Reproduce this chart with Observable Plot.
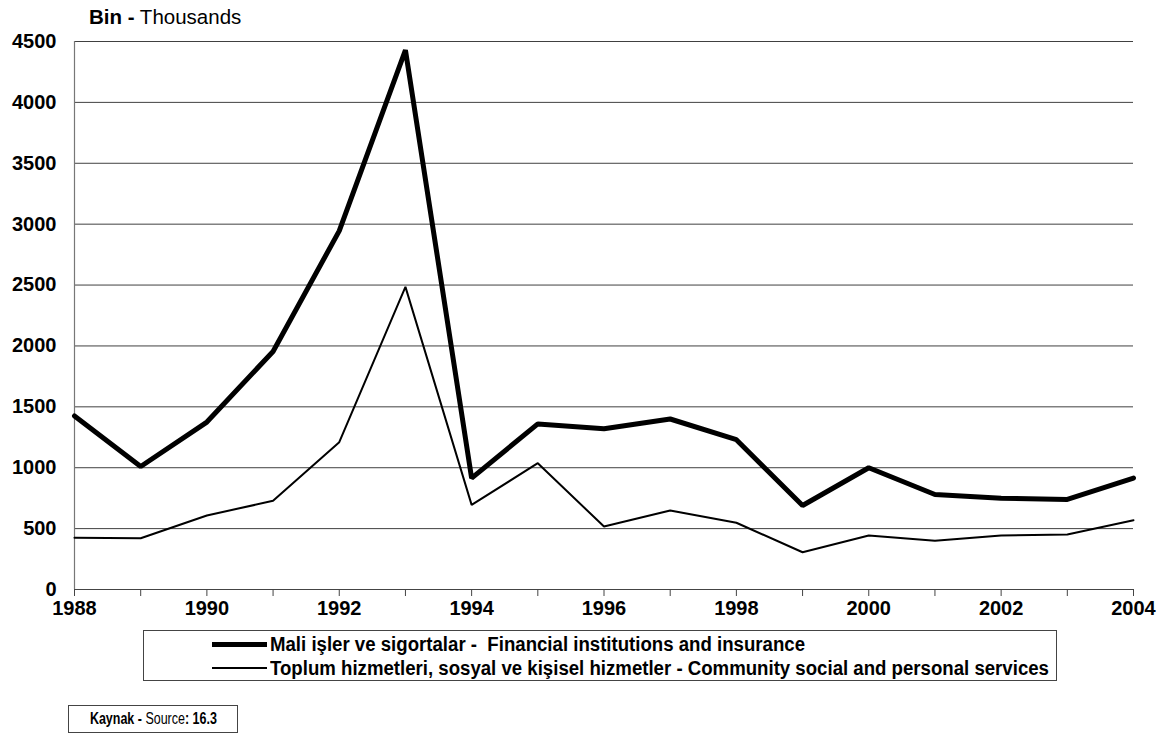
<!DOCTYPE html>
<html>
<head>
<meta charset="utf-8">
<script src="https://cdn.jsdelivr.net/npm/d3@7"></script>
<script src="https://cdn.jsdelivr.net/npm/@observablehq/plot@0.6"></script>
<style>
  html, body { margin: 0; padding: 0; background: #fff; }
  #wrap { position: relative; width: 1164px; height: 736px; font-family: "Liberation Sans", Arial, sans-serif; color: #000; }
  #title { position: absolute; left: 89px; top: 4px; font-size: 20.5px; line-height: 26px; white-space: nowrap; }
  #chart { position: absolute; left: 0; top: 28px; }
  #legend { position: absolute; left: 143px; top: 630px; width: 912px; height: 49px; border: 1px solid #444; }
  .row { position: absolute; left: 68px; height: 24px; display: flex; align-items: center; white-space: nowrap;
         font-family: "Liberation Sans", Arial, sans-serif; font-weight: bold; font-size: 19.5px; }
  .swatch { width: 55px; background: #000; margin-right: 3px; flex: none; }
  .ltext { display: inline-block; transform: scaleX(0.955); transform-origin: 0 50%; white-space: pre; }
  #source { position: absolute; left: 68px; top: 705px; width: 168px; height: 26px; border: 1px solid #444;
            font-size: 16px; line-height: 26px; text-align: center; white-space: nowrap; }
  #source span { display: inline-block; transform: scaleX(0.78); transform-origin: 50% 50%; }
</style>
</head>
<body>
<div id="wrap">
  <div id="title"><b>Bin -</b> Thousands</div>
  <div id="chart"></div>
  <div id="legend"></div>
  <div id="source"><span><b>Kaynak -</b> Source<b>: 16.3</b></span></div>
</div>
<script>
const years = [1988,1989,1990,1991,1992,1993,1994,1995,1996,1997,1998,1999,2000,2001,2002,2003,2004];
const financial = [1425,1010,1375,1955,2945,4430,915,1360,1320,1400,1230,690,1000,780,750,740,915];
const community = [424,421,608,728,1210,2485,695,1037,517,649,548,306,443,400,443,452,569];
const seriesNames = [
  "Mali işler ve sigortalar -  Financial institutions and insurance",
  "Toplum hizmetleri, sosyal ve kişisel hizmetler - Community social and personal services"
];
const seriesWidths = [5, 2];
const yTicks = [0,500,1000,1500,2000,2500,3000,3500,4000,4500];
const xLabelYears = [1988,1990,1992,1994,1996,1998,2000,2002,2004];

const rows = [];
years.forEach((yr, i) => {
  rows.push({year: yr, value: financial[i], series: seriesNames[0]});
  rows.push({year: yr, value: community[i], series: seriesNames[1]});
});

const chart = Plot.plot({
  width: 1164,
  height: 596,
  marginLeft: 74,
  marginRight: 31,
  marginTop: 13,
  marginBottom: 35,
  style: {fontFamily: "'Liberation Sans', Arial, sans-serif", background: "#fff", color: "#000"},
  x: {type: "linear", domain: [1988, 2004]},
  y: {domain: [0, 4500]},
  marks: [
    Plot.gridY(yTicks.filter(d => d > 0), {stroke: "#000", strokeOpacity: 0.75, strokeWidth: 1}),
    Plot.ruleX([1988], {stroke: "#777", strokeWidth: 1.2}),
    Plot.ruleY([0], {stroke: "#444", strokeWidth: 1}),
    Plot.axisY({ticks: yTicks, tickSize: 0, tickPadding: 18, fontSize: 20, fontWeight: "bold", label: null,
                tickFormat: d3.format("d")}),
    Plot.axisX({ticks: years, tickSize: 7, tickPadding: 4, fontSize: 20, fontWeight: "bold", label: null,
                stroke: "#444", strokeOpacity: 1,
                tickFormat: d => xLabelYears.includes(d) ? String(d) : ""}),
    Plot.line(rows.filter(d => d.series === seriesNames[1]), {x: "year", y: "value", stroke: "#000", strokeWidth: seriesWidths[1], strokeLinejoin: "miter"}),
    Plot.line(rows.filter(d => d.series === seriesNames[0]), {x: "year", y: "value", stroke: "#000", strokeWidth: seriesWidths[0], strokeLinejoin: "miter"})
  ]
});
document.getElementById("chart").appendChild(chart);

const legend = document.getElementById("legend");
seriesNames.forEach((name, i) => {
  const row = document.createElement("div");
  row.className = "row";
  row.style.top = (i * 24 + 1) + "px";
  const sw = document.createElement("span");
  sw.className = "swatch";
  sw.style.height = seriesWidths[i] + "px";
  const tx = document.createElement("span");
  tx.className = "ltext";
  tx.textContent = name;
  row.appendChild(sw);
  row.appendChild(tx);
  legend.appendChild(row);
});
</script>
</body>
</html>
